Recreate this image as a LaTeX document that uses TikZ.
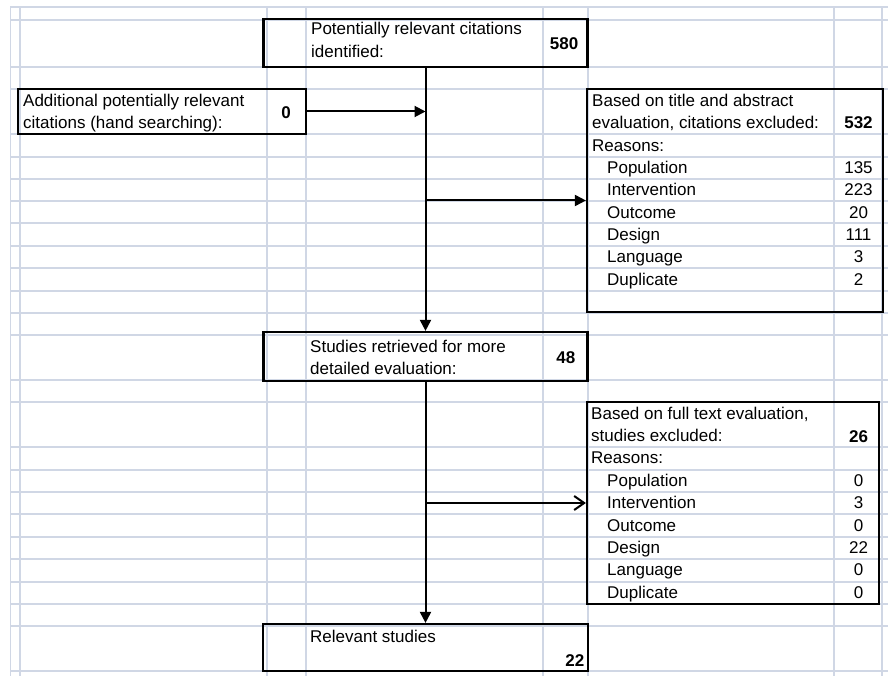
\documentclass[tikz,border=0pt]{standalone}
\usepackage{fontspec}
\setmainfont{Liberation Sans}
\usetikzlibrary{arrows.meta}
\begin{document}
\begin{tikzpicture}[x=1pt,y=-1pt,
  grid/.style={draw={rgb,255:red,208;green,215;blue,229}, line width=1.6pt},
  box/.style={draw=black, line width=2.2pt, inner sep=0pt},
  txt/.style={inner sep=0pt, text height=12.2pt, text depth=0pt, anchor=west, font=\fontsize{17}{20}\selectfont},
  num/.style={txt, anchor=center},
  rnum/.style={txt, anchor=east},
  arr/.style={draw=black, line width=2pt, -{Triangle[length=11pt,width=11pt]}},
  oarr/.style={draw=black, line width=2pt, -{Straight Barb[length=10pt,width=14pt,line width=2pt]}}
]
\useasboundingbox (0,0) rectangle (888,676);
\fill[white] (0,0) rectangle (888,676);
% spreadsheet grid
\foreach \yy in {7,20,67,89,134,157,179,201,223,246,268,291,313,335,380,402,447,470,492,514,537,559,582,604,626,671}
  \draw[grid] (10,\yy) -- (888,\yy);
\foreach \xx in {10.5,20,267,306,543,588,834,882}
  \draw[grid] (\xx,7) -- (\xx,676);

% boxes
\node[box, minimum width=324pt, minimum height=48pt] (top) at (425.5,43) {};
\node[box, minimum width=288pt, minimum height=45pt] (add) at (162,111.5) {};
\node[box, minimum width=296pt, minimum height=223pt] (ex1) at (735,200.5) {};
\node[box, minimum width=324pt, minimum height=49pt] (stud) at (425.5,356.5) {};
\node[box, minimum width=292pt, minimum height=202pt] (ex2) at (733,503) {};
\node[box, minimum width=325pt, minimum height=47pt] (rel) at (425.5,647.5) {};

% texts: top box
\node[txt] (t1) at (311,28) {Potentially relevant citations};
\node[txt] (t2) at (311,51.5) {identified:};
\node[rnum] (t3) at (578.5,43.3) {\bfseries 580};
% additional box
\node[txt] (a1) at (23,100) {Additional potentially relevant};
\node[txt] (a2) at (23,122) {citations (hand searching):};
\node[num] (a3) at (286,112) {\bfseries 0};
% exclusion box 1
\node[txt] (e1) at (592,100) {Based on title and abstract};
\node[txt] (e2) at (592,122) {evaluation, citations excluded:};
\node[num] (e3) at (858.5,122.5) {\bfseries 532};
\node[txt] (e4) at (592,145) {Reasons:};
\node[txt] (e5) at (607,167) {Population};
\node[txt] (e6) at (607,189) {Intervention};
\node[txt] (e7) at (607,212) {Outcome};
\node[txt] (e8) at (607,234) {Design};
\node[txt] (e9) at (607,256.5) {Language};
\node[txt] (e10) at (607,279) {Duplicate};
\node[num] (n5) at (858.5,167) {135};
\node[num] (n6) at (858.5,189) {223};
\node[num] (n7) at (858.5,212) {20};
\node[num] (n8) at (858.5,234) {111};
\node[num] (n9) at (858.5,256.5) {3};
\node[num] (n10) at (858.5,279) {2};
% studies box
\node[txt] (s1) at (310,346) {Studies retrieved for more};
\node[txt] (s2) at (310,368) {detailed evaluation:};
\node[rnum] (s3) at (575.5,357.7) {\bfseries 48};
% exclusion box 2
\node[txt] (f1) at (591,413) {Based on full text evaluation,};
\node[txt] (f2) at (591,435) {studies excluded:};
\node[num] (f3) at (858.5,436) {\bfseries 26};
\node[txt] (f4) at (591,457.5) {Reasons:};
\node[txt] (f5) at (607,480) {Population};
\node[txt] (f6) at (607,502) {Intervention};
\node[txt] (f7) at (607,525) {Outcome};
\node[txt] (f8) at (607,547.5) {Design};
\node[txt] (f9) at (607,569) {Language};
\node[txt] (f10) at (607,592) {Duplicate};
\node[num] (m5) at (858.5,480) {0};
\node[num] (m6) at (858.5,502) {3};
\node[num] (m7) at (858.5,525) {0};
\node[num] (m8) at (858.5,547.5) {22};
\node[num] (m9) at (858.5,569) {0};
\node[num] (m10) at (858.5,592) {0};
% relevant box
\node[txt] (r1) at (310,636) {Relevant studies};
\node[rnum] (r2) at (584.5,660.5) {\bfseries 22};

% connectors
\draw[arr] (top.south) -- (stud.north);
\draw[arr] (stud.south) -- (rel.north);
\draw[arr] (add.east) -- (add.east -| top.south);
\draw[arr] (top.south |- ex1.west) -- (ex1.west);
\draw[oarr] (stud.south |- ex2.west) -- (ex2.west);
\end{tikzpicture}
\end{document}
